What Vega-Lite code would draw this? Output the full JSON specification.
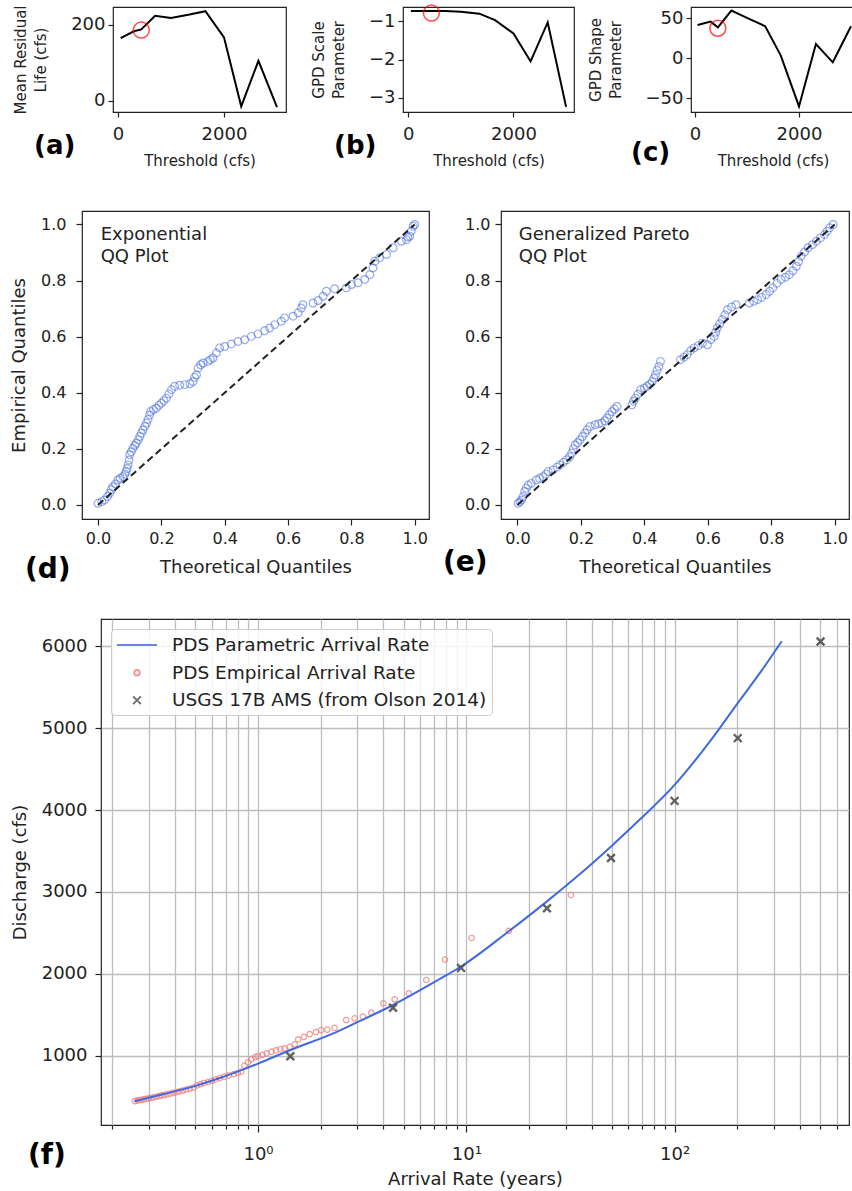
{
"$schema": "https://vega.github.io/schema/vega-lite/v6.json",
"background": "white",
"padding": {"left": 9, "top": 1, "right": 0, "bottom": 0},
"config": {
  "view": {"stroke": "#222", "strokeWidth": 1.2},
  "font": "DejaVu Sans",
  "axis": {"domain": false, "grid": false, "tickColor": "#222", "tickWidth": 1.2, "tickSize": 5, "labelColor": "#222", "titleColor": "#222", "labelFont": "DejaVu Sans", "titleFont": "DejaVu Sans", "titleFontWeight": "normal", "labelPadding": 4, "labelFlush": false, "labelOverlap": false},
  "axisX": {"labelPadding": 8, "titlePadding": 10},
  "axisY": {"labelPadding": 3, "titlePadding": 22},
  "title": {"font": "DejaVu Sans", "fontSize": 27, "fontWeight": "bold", "color": "#000", "offset": 0, "frame": "group", "anchor": "start", "orient": "top", "baseline": "alphabetic"},
  "legend": {"orient": "top-left", "offset": 10, "labelFontSize": 18.5, "labelLimit": 0, "labelFont": "DejaVu Sans", "labelColor": "#222", "strokeColor": "#cccccc", "fillColor": "rgba(255,255,255,0.85)", "cornerRadius": 4, "padding": 5, "rowPadding": 8.5, "symbolStrokeWidth": 2, "symbolOffset": 10, "labelOffset": 24}
},
"datasets": {
  "thr": [
    {"t": 50, "mrl": 165, "sc": -0.73, "sh": 41.6},
    {"t": 300, "mrl": 183, "sc": -0.73, "sh": 45.8},
    {"t": 440, "mrl": 188, "sc": -0.73, "sh": 38.7},
    {"t": 700, "mrl": 224, "sc": -0.73, "sh": 59.5},
    {"t": 1000, "mrl": 218, "sc": -0.75, "sh": 50.5},
    {"t": 1350, "mrl": 227, "sc": -0.80, "sh": 40},
    {"t": 1650, "mrl": 236, "sc": -0.97, "sh": 3.3},
    {"t": 2000, "mrl": 167, "sc": -1.32, "sh": -60},
    {"t": 2325, "mrl": -15, "sc": -2.05, "sh": 17.9},
    {"t": 2650, "mrl": 105, "sc": -1.03, "sh": -5},
    {"t": 3000, "mrl": -17, "sc": -3.24, "sh": 40}
  ],
  "sel": [{"t": 440, "mrl": 186, "sc": -0.785, "sh": 37.5}],
  "diag": [{"q": 0, "e": 0}, {"q": 1, "e": 1}],
  "sp": [{"v": 0}],
  "qqd": [
    {"q":0.0,"e":0.006},{"q":0.012,"e":0.012},{"q":0.021,"e":0.018},{"q":0.03,"e":0.03},{"q":0.037,"e":0.042},{"q":0.042,"e":0.055},{"q":0.047,"e":0.065},{"q":0.055,"e":0.075},{"q":0.063,"e":0.089},{"q":0.07,"e":0.095},{"q":0.079,"e":0.101},{"q":0.085,"e":0.11},{"q":0.089,"e":0.119},{"q":0.092,"e":0.13},{"q":0.095,"e":0.143},{"q":0.098,"e":0.16},{"q":0.1,"e":0.179},{"q":0.105,"e":0.19},{"q":0.11,"e":0.202},{"q":0.116,"e":0.212},{"q":0.121,"e":0.22},{"q":0.127,"e":0.232},{"q":0.132,"e":0.244},{"q":0.137,"e":0.256},{"q":0.142,"e":0.268},{"q":0.148,"e":0.28},{"q":0.153,"e":0.292},{"q":0.158,"e":0.305},{"q":0.163,"e":0.321},{"q":0.166,"e":0.333},{"q":0.175,"e":0.34},{"q":0.184,"e":0.345},{"q":0.192,"e":0.355},{"q":0.2,"e":0.363},{"q":0.208,"e":0.372},{"q":0.216,"e":0.381},{"q":0.224,"e":0.396},{"q":0.232,"e":0.411},{"q":0.242,"e":0.423},{"q":0.258,"e":0.427},{"q":0.274,"e":0.429},{"q":0.29,"e":0.432},{"q":0.3,"e":0.44},{"q":0.305,"e":0.455},{"q":0.311,"e":0.464},{"q":0.316,"e":0.488},{"q":0.324,"e":0.5},{"q":0.332,"e":0.506},{"q":0.347,"e":0.512},{"q":0.355,"e":0.518},{"q":0.363,"e":0.524},{"q":0.374,"e":0.542},{"q":0.384,"e":0.56},{"q":0.4,"e":0.565},{"q":0.421,"e":0.574},{"q":0.442,"e":0.583},{"q":0.463,"e":0.589},{"q":0.484,"e":0.601},{"q":0.505,"e":0.61},{"q":0.526,"e":0.621},{"q":0.542,"e":0.631},{"q":0.558,"e":0.643},{"q":0.579,"e":0.655},{"q":0.589,"e":0.667},{"q":0.616,"e":0.673},{"q":0.632,"e":0.685},{"q":0.642,"e":0.702},{"q":0.647,"e":0.714},{"q":0.679,"e":0.72},{"q":0.695,"e":0.729},{"q":0.711,"e":0.744},{"q":0.721,"e":0.762},{"q":0.747,"e":0.771},{"q":0.784,"e":0.774},{"q":0.8,"e":0.786},{"q":0.821,"e":0.792},{"q":0.842,"e":0.804},{"q":0.858,"e":0.821},{"q":0.868,"e":0.845},{"q":0.874,"e":0.869},{"q":0.889,"e":0.881},{"q":0.911,"e":0.893},{"q":0.932,"e":0.917},{"q":0.958,"e":0.94},{"q":0.974,"e":0.946},{"q":0.978,"e":0.955},{"q":0.984,"e":0.958},{"q":0.989,"e":0.976},{"q":0.995,"e":0.994},{"q":1.0,"e":1.0}
  ],
  "qqe": [
    {"q":0.002,"e":0.006},{"q":0.008,"e":0.012},{"q":0.013,"e":0.018},{"q":0.018,"e":0.03},{"q":0.023,"e":0.048},{"q":0.028,"e":0.06},{"q":0.034,"e":0.071},{"q":0.044,"e":0.077},{"q":0.06,"e":0.089},{"q":0.07,"e":0.095},{"q":0.081,"e":0.101},{"q":0.09,"e":0.11},{"q":0.097,"e":0.119},{"q":0.113,"e":0.125},{"q":0.125,"e":0.135},{"q":0.134,"e":0.143},{"q":0.145,"e":0.152},{"q":0.155,"e":0.161},{"q":0.165,"e":0.172},{"q":0.171,"e":0.185},{"q":0.176,"e":0.2},{"q":0.182,"e":0.214},{"q":0.19,"e":0.222},{"q":0.197,"e":0.232},{"q":0.205,"e":0.244},{"q":0.213,"e":0.256},{"q":0.22,"e":0.268},{"q":0.229,"e":0.28},{"q":0.245,"e":0.286},{"q":0.256,"e":0.29},{"q":0.266,"e":0.292},{"q":0.275,"e":0.3},{"q":0.282,"e":0.31},{"q":0.29,"e":0.322},{"q":0.298,"e":0.333},{"q":0.306,"e":0.342},{"q":0.314,"e":0.351},{"q":0.361,"e":0.357},{"q":0.366,"e":0.37},{"q":0.372,"e":0.381},{"q":0.38,"e":0.395},{"q":0.388,"e":0.411},{"q":0.4,"e":0.417},{"q":0.409,"e":0.423},{"q":0.417,"e":0.43},{"q":0.425,"e":0.44},{"q":0.43,"e":0.452},{"q":0.435,"e":0.464},{"q":0.44,"e":0.48},{"q":0.446,"e":0.494},{"q":0.451,"e":0.512},{"q":0.514,"e":0.518},{"q":0.525,"e":0.527},{"q":0.535,"e":0.536},{"q":0.546,"e":0.55},{"q":0.557,"e":0.56},{"q":0.57,"e":0.568},{"q":0.583,"e":0.577},{"q":0.599,"e":0.571},{"q":0.61,"e":0.59},{"q":0.62,"e":0.601},{"q":0.625,"e":0.616},{"q":0.63,"e":0.631},{"q":0.638,"e":0.646},{"q":0.646,"e":0.661},{"q":0.654,"e":0.678},{"q":0.662,"e":0.696},{"q":0.675,"e":0.706},{"q":0.689,"e":0.714},{"q":0.731,"e":0.72},{"q":0.745,"e":0.726},{"q":0.757,"e":0.732},{"q":0.77,"e":0.74},{"q":0.784,"e":0.75},{"q":0.795,"e":0.762},{"q":0.805,"e":0.774},{"q":0.818,"e":0.79},{"q":0.831,"e":0.804},{"q":0.845,"e":0.812},{"q":0.857,"e":0.821},{"q":0.868,"e":0.835},{"q":0.879,"e":0.851},{"q":0.886,"e":0.868},{"q":0.894,"e":0.887},{"q":0.905,"e":0.902},{"q":0.916,"e":0.917},{"q":0.93,"e":0.928},{"q":0.942,"e":0.94},{"q":0.955,"e":0.952},{"q":0.968,"e":0.964},{"q":0.976,"e":0.976},{"q":0.984,"e":0.988},{"q":0.995,"e":1.0}
  ],
  "emp": [
    {"rate":0.256,"q":445},{"rate":0.262,"q":452},{"rate":0.268,"q":458},{"rate":0.275,"q":462},{"rate":0.282,"q":468},{"rate":0.29,"q":474},{"rate":0.298,"q":480},{"rate":0.306,"q":486},{"rate":0.315,"q":492},{"rate":0.325,"q":500},{"rate":0.335,"q":508},{"rate":0.345,"q":516},{"rate":0.356,"q":522},{"rate":0.368,"q":530},{"rate":0.38,"q":538},{"rate":0.393,"q":548},{"rate":0.407,"q":556},{"rate":0.42,"q":565},{"rate":0.436,"q":575},{"rate":0.452,"q":588},{"rate":0.47,"q":600},{"rate":0.49,"q":612},{"rate":0.51,"q":640},{"rate":0.53,"q":655},{"rate":0.55,"q":668},{"rate":0.575,"q":680},{"rate":0.6,"q":695},{"rate":0.625,"q":712},{"rate":0.655,"q":728},{"rate":0.69,"q":745},{"rate":0.725,"q":760},{"rate":0.765,"q":775},{"rate":0.8,"q":790},{"rate":0.83,"q":805},{"rate":0.86,"q":880},{"rate":0.895,"q":920},{"rate":0.93,"q":960},{"rate":0.97,"q":985},{"rate":1.0,"q":995},{"rate":1.05,"q":1010},{"rate":1.1,"q":1030},{"rate":1.16,"q":1050},{"rate":1.22,"q":1065},{"rate":1.28,"q":1080},{"rate":1.34,"q":1090},{"rate":1.42,"q":1110},{"rate":1.5,"q":1140},{"rate":1.56,"q":1200},{"rate":1.66,"q":1230},{"rate":1.77,"q":1265},{"rate":1.9,"q":1290},{"rate":2.01,"q":1314},{"rate":2.15,"q":1320},{"rate":2.33,"q":1342},{"rate":2.65,"q":1436},{"rate":2.91,"q":1457},{"rate":3.19,"q":1477},{"rate":3.5,"q":1526},{"rate":4.0,"q":1640},{"rate":4.53,"q":1689},{"rate":5.3,"q":1762},{"rate":6.43,"q":1925},{"rate":7.9,"q":2175},{"rate":10.6,"q":2438},{"rate":16,"q":2525},{"rate":31.8,"q":2963}
  ],
  "par": [
    {"rate":0.256,"q":447},{"rate":0.35,"q":530},{"rate":0.497,"q":630},{"rate":0.65,"q":725},{"rate":0.832,"q":825},{"rate":1.0,"q":905},{"rate":1.43,"q":1070},{"rate":2.33,"q":1280},{"rate":3.0,"q":1410},{"rate":4.45,"q":1620},{"rate":7.31,"q":1925},{"rate":9.44,"q":2090},{"rate":16,"q":2520},{"rate":24.4,"q":2885},{"rate":35,"q":3215},{"rate":50,"q":3565},{"rate":66.7,"q":3862},{"rate":100,"q":4307},{"rate":150,"q":4860},{"rate":201,"q":5306},{"rate":260,"q":5692},{"rate":327,"q":6060}
  ],
  "ams": [
    {"rate":1.43,"q":995},{"rate":4.45,"q":1586},{"rate":9.44,"q":2073},{"rate":24.4,"q":2800},{"rate":49.5,"q":3415},{"rate":100,"q":4112},{"rate":201,"q":4878},{"rate":502,"q":6058}
  ]
},
"resolve": {"scale": {"color": "independent", "shape": "independent", "size": "independent"}},
"spacing": 41,
"vconcat": [
  {
    "spacing": 0, "bounds": "flush",
    "hconcat": [
      {"width": 31, "height": 105, "view": {"stroke": null}, "data": {"name": "sp"}, "mark": {"type": "point", "opacity": 0},
       "encoding": {"x": {"field": "v", "type": "quantitative", "axis": null}, "y": {"field": "v", "type": "quantitative", "axis": null}}},
      {
        "spacing": 117, "bounds": "flush",
        "hconcat": [
          {
            "width": 173, "height": 105,
            "title": {"text": "(a)", "dx": -79, "dy": 158, "fontSize": 26},
            "layer": [
              {"data": {"name": "thr"}, "mark": {"type": "line", "color": "black", "strokeWidth": 2, "clip": true},
               "encoding": {
                 "x": {"field": "t", "type": "quantitative", "scale": {"domain": [-94, 3170], "nice": false, "zero": false}, "axis": {"values": [0, 2000], "format": "d", "title": "Threshold (cfs)", "labelFontSize": 18, "titleFontSize": 15}},
                 "y": {"field": "mrl", "type": "quantitative", "scale": {"domain": [-30, 247], "nice": false, "zero": false}, "axis": {"values": [0, 200], "title": ["Mean Residual", "Life (cfs)"], "labelFontSize": 18, "titleFontSize": 15, "titleLineHeight": 20}}
               }},
              {"data": {"name": "sel"}, "mark": {"type": "point", "shape": "circle", "filled": false, "color": "red", "size": 256, "strokeWidth": 1.5},
               "encoding": {"x": {"field": "t", "type": "quantitative"}, "y": {"field": "mrl", "type": "quantitative"}}}
            ]
          },
          {
            "width": 171, "height": 105,
            "title": {"text": "(b)", "dx": -69, "dy": 161, "fontSize": 26},
            "layer": [
              {"data": {"name": "thr"}, "mark": {"type": "line", "color": "black", "strokeWidth": 2, "clip": true},
               "encoding": {
                 "x": {"field": "t", "type": "quantitative", "scale": {"domain": [-100, 3150], "nice": false, "zero": false}, "axis": {"values": [0, 2000], "format": "d", "title": "Threshold (cfs)", "labelFontSize": 18, "titleFontSize": 15}},
                 "y": {"field": "sc", "type": "quantitative", "scale": {"domain": [-3.375, -0.625], "nice": false, "zero": false}, "axis": {"values": [-1, -2, -3], "format": "d", "title": ["GPD Scale", "Parameter"], "labelFontSize": 18, "titleFontSize": 15, "titleLineHeight": 20}}
               }},
              {"data": {"name": "sel"}, "mark": {"type": "point", "shape": "circle", "filled": false, "color": "red", "size": 256, "strokeWidth": 1.5},
               "encoding": {"x": {"field": "t", "type": "quantitative"}, "y": {"field": "sc", "type": "quantitative"}}}
            ]
          },
          {
            "width": 164, "height": 105,
            "title": {"text": "(c)", "dx": -60, "dy": 163, "fontSize": 26},
            "layer": [
              {"data": {"name": "thr"}, "mark": {"type": "line", "color": "black", "strokeWidth": 2, "clip": true},
               "encoding": {
                 "x": {"field": "t", "type": "quantitative", "scale": {"domain": [-77, 3077], "nice": false, "zero": false}, "axis": {"values": [0, 2000], "format": "d", "title": "Threshold (cfs)", "labelFontSize": 18, "titleFontSize": 15}},
                 "y": {"field": "sh", "type": "quantitative", "scale": {"domain": [-67, 64], "nice": false, "zero": false}, "axis": {"values": [50, 0, -50], "format": "d", "title": ["GPD Shape", "Parameter"], "labelFontSize": 18, "titleFontSize": 15, "titleLineHeight": 20}}
               }},
              {"data": {"name": "sel"}, "mark": {"type": "point", "shape": "circle", "filled": false, "color": "red", "size": 256, "strokeWidth": 1.5},
               "encoding": {"x": {"field": "t", "type": "quantitative"}, "y": {"field": "sh", "type": "quantitative"}}}
            ]
          }
        ]
      }
    ]
  },
  {
    "spacing": 33,
    "resolve": {"scale": {"color": "independent", "shape": "independent", "size": "independent"}},
    "vconcat": [
      {
        "spacing": 72, "bounds": "flush",
        "hconcat": [
          {
            "width": 347, "height": 308,
            "title": {"text": "(d)", "dx": -57, "dy": 377, "fontSize": 28},
            "layer": [
              {"data": {"name": "qqd"}, "mark": {"type": "point", "shape": "circle", "filled": false, "color": "#4169e1", "opacity": 0.55, "size": 60, "strokeWidth": 1.2},
               "encoding": {
                 "x": {"field": "q", "type": "quantitative", "scale": {"domain": [-0.0505, 1.045], "nice": false, "zero": false}, "axis": {"values": [0, 0.2, 0.4, 0.6, 0.8, 1.0], "format": ".1f", "title": "Theoretical Quantiles", "labelFontSize": 16, "titleFontSize": 18, "tickSize": 6, "labelPadding": 5, "titlePadding": 12}},
                 "y": {"field": "e", "type": "quantitative", "scale": {"domain": [-0.05, 1.048], "nice": false, "zero": false}, "axis": {"values": [0, 0.2, 0.4, 0.6, 0.8, 1.0], "format": ".1f", "title": "Empirical Quantiles", "labelFontSize": 16, "titleFontSize": 18, "tickSize": 6, "labelPadding": 10, "titlePadding": 12}}
               }},
              {"data": {"name": "diag"}, "mark": {"type": "line", "color": "#222", "strokeWidth": 2, "strokeDash": [7, 4]},
               "encoding": {"x": {"field": "q", "type": "quantitative"}, "y": {"field": "e", "type": "quantitative"}}},
              {"data": {"values": [{}]}, "mark": {"type": "text", "text": ["Exponential", "QQ Plot"], "align": "left", "baseline": "top", "fontSize": 18, "lineHeight": 22, "font": "DejaVu Sans", "color": "#222"},
               "encoding": {"x": {"datum": 0.0085}, "y": {"datum": 0.993}}}
            ]
          },
          {
            "width": 348, "height": 308,
            "title": {"text": "(e)", "dx": -58, "dy": 370, "fontSize": 28},
            "layer": [
              {"data": {"name": "qqe"}, "mark": {"type": "point", "shape": "circle", "filled": false, "color": "#4169e1", "opacity": 0.55, "size": 60, "strokeWidth": 1.2},
               "encoding": {
                 "x": {"field": "q", "type": "quantitative", "scale": {"domain": [-0.0516, 1.045], "nice": false, "zero": false}, "axis": {"values": [0, 0.2, 0.4, 0.6, 0.8, 1.0], "format": ".1f", "title": "Theoretical Quantiles", "labelFontSize": 16, "titleFontSize": 18, "tickSize": 6, "labelPadding": 5, "titlePadding": 12}},
                 "y": {"field": "e", "type": "quantitative", "scale": {"domain": [-0.05, 1.048], "nice": false, "zero": false}, "axis": {"values": [0, 0.2, 0.4, 0.6, 0.8, 1.0], "format": ".1f", "title": null, "labelFontSize": 16, "tickSize": 6, "labelPadding": 5}}
               }},
              {"data": {"name": "diag"}, "mark": {"type": "line", "color": "#222", "strokeWidth": 2, "strokeDash": [7, 4]},
               "encoding": {"x": {"field": "q", "type": "quantitative"}, "y": {"field": "e", "type": "quantitative"}}},
              {"data": {"values": [{}]}, "mark": {"type": "text", "text": ["Generalized Pareto", "QQ Plot"], "align": "left", "baseline": "top", "fontSize": 18, "lineHeight": 22, "font": "DejaVu Sans", "color": "#222"},
               "encoding": {"x": {"datum": 0.0044}, "y": {"datum": 0.993}}}
            ]
          }
        ]
      },
      {
        "spacing": 0, "bounds": "flush",
        "resolve": {"scale": {"color": "independent", "shape": "independent", "size": "independent"}},
        "hconcat": [
          {"width": 19, "height": 506, "view": {"stroke": null}, "data": {"name": "sp"}, "mark": {"type": "point", "opacity": 0},
           "encoding": {"x": {"field": "v", "type": "quantitative", "axis": null}, "y": {"field": "v", "type": "quantitative", "axis": null}}},
          {
            "width": 748, "height": 506,
            "title": {"text": "(f)", "dx": -73, "dy": 555, "fontSize": 28},
            "encoding": {
              "x": {"field": "rate", "type": "quantitative", "scale": {"type": "log", "domain": [0.1763, 687.6], "nice": false},
                    "axis": {"values": [0.2,0.3,0.4,0.5,0.6,0.7,0.8,0.9,1,2,3,4,5,6,7,8,9,10,20,30,40,50,60,70,80,90,100,200,300,400,500,600],
                             "labelExpr": "datum.value == 1 ? '10⁰' : datum.value == 10 ? '10¹' : datum.value == 100 ? '10²' : ''",
                             "grid": true, "gridColor": "#bdbdbd", "gridWidth": 1.3,
                             "tickSize": {"condition": {"test": "datum.value == 1 || datum.value == 10 || datum.value == 100", "value": 7}, "value": 4},
                             "title": "Arrival Rate (years)", "labelFontSize": 18, "titleFontSize": 18, "labelPadding": 13, "titlePadding": 7}},
              "y": {"field": "q", "type": "quantitative", "scale": {"domain": [155, 6332], "nice": false, "zero": false},
                    "axis": {"values": [1000, 2000, 3000, 4000, 5000, 6000], "format": "d", "grid": true, "gridColor": "#bdbdbd", "gridWidth": 1.3, "tickSize": 6,
                             "title": "Discharge (cfs)", "labelFontSize": 18, "titleFontSize": 18, "labelPadding": 8, "titlePadding": 12}},
              "color": {"field": "series", "type": "nominal", "title": null,
                        "scale": {"domain": ["PDS Parametric Arrival Rate", "PDS Empirical Arrival Rate", "USGS 17B AMS (from Olson 2014)"], "range": ["#4169e1", "#f08080", "#505050"]}}
            },
            "layer": [
              {"data": {"name": "emp"}, "transform": [{"calculate": "'PDS Empirical Arrival Rate'", "as": "series"}],
               "mark": {"type": "point", "filled": false, "strokeWidth": 1.2, "opacity": 0.8},
               "encoding": {
                 "shape": {"field": "series", "type": "nominal", "title": null, "scale": {"domain": ["PDS Parametric Arrival Rate", "PDS Empirical Arrival Rate", "USGS 17B AMS (from Olson 2014)"], "range": ["M-2,0L2,0", "circle", "M-1,-1L1,1M-1,1L1,-1"]}},
                 "size": {"field": "series", "type": "nominal", "title": null, "scale": {"type": "ordinal", "domain": ["PDS Parametric Arrival Rate", "PDS Empirical Arrival Rate", "USGS 17B AMS (from Olson 2014)"], "range": [400, 30, 60]}}
               }},
              {"data": {"name": "par"}, "transform": [{"calculate": "'PDS Parametric Arrival Rate'", "as": "series"}],
               "mark": {"type": "line", "strokeWidth": 2, "interpolate": "monotone"}},
              {"data": {"name": "ams"}, "transform": [{"calculate": "'USGS 17B AMS (from Olson 2014)'", "as": "series"}],
               "mark": {"type": "point", "filled": false, "strokeWidth": 2.4, "opacity": 0.9},
               "encoding": {
                 "shape": {"field": "series", "type": "nominal", "title": null, "scale": {"domain": ["PDS Parametric Arrival Rate", "PDS Empirical Arrival Rate", "USGS 17B AMS (from Olson 2014)"], "range": ["M-2,0L2,0", "circle", "M-1,-1L1,1M-1,1L1,-1"]}},
                 "size": {"field": "series", "type": "nominal", "title": null, "scale": {"type": "ordinal", "domain": ["PDS Parametric Arrival Rate", "PDS Empirical Arrival Rate", "USGS 17B AMS (from Olson 2014)"], "range": [400, 30, 60]}}
               }}
            ]
          }
        ]
      }
    ]
  }
]
}
